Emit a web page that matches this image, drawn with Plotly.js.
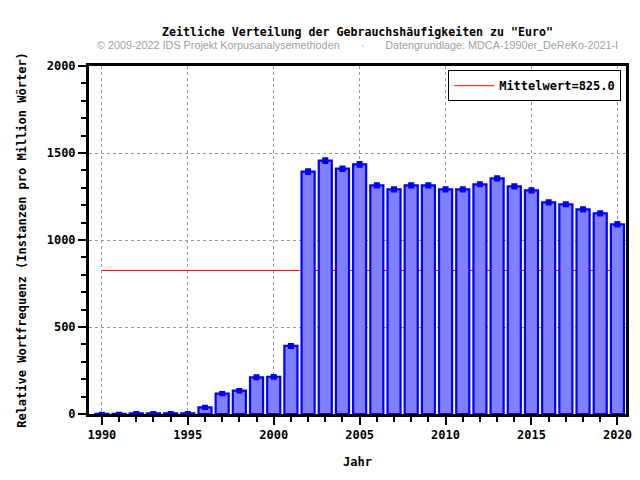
<!DOCTYPE html>
<html>
<head>
<meta charset="utf-8">
<script src="https://cdn.plot.ly/plotly-3.0.1.min.js"></script>
<style>body{margin:0;padding:0;background:#fff}#chart{width:640px;height:480px}</style>
</head>
<body>
<div id="chart"></div>
<script>
const years = [1990,1991,1992,1993,1994,1995,1996,1997,1998,1999,2000,2001,2002,2003,2004,2005,2006,2007,2008,2009,2010,2011,2012,2013,2014,2015,2016,2017,2018,2019,2020];
const values = [1,1,4,4,4,4,38,117,134,211,214,391,1393,1456,1410,1435,1314,1291,1314,1314,1291,1291,1320,1354,1308,1285,1216,1205,1176,1153,1090];
const errors = [1,1,2,2,2,2,3,4,4,6,5,6,8,8,7,8,6,6,6,6,6,6,6,7,6,6,6,6,6,6,7];
const meanValue = 825.0;
const meanYears = [1990, 2020];
const titleText = 'Zeitliche Verteilung der Gebrauchshäufigkeiten zu "Euro"';
const subtitleText = '© 2009-2022 IDS Projekt Korpusanalysemethoden &nbsp;&nbsp;&nbsp;&nbsp;&nbsp;&nbsp;·&nbsp;&nbsp;&nbsp;&nbsp;&nbsp;&nbsp; Datengrundlage: MDCA-1990er_DeReKo-2021-I';
const xTitle = 'Jahr';
const yTitle = 'Relative Wortfrequenz (Instanzen pro Million Wörter)';

const mono = 'DejaVu Sans Mono, monospace';
const xRange = [1989.25, 2020.5];
const yRange = [0, 2000];

const traces = [
  {
    type: 'scatter', mode: 'lines',
    x: meanYears, y: [meanValue, meanValue],
    xaxis: 'x', yaxis: 'y',
    line: {color: '#ff0000', width: 1},
    name: 'Mittelwert=' + meanValue.toFixed(1),
    showlegend: true
  },
  {
    type: 'bar', x: years, y: values, width: 0.76,
    xaxis: 'x2', yaxis: 'y2',
    marker: {color: '#8080ff', line: {color: '#0000ff', width: 2.2}},
    error_y: {type: 'data', array: errors, visible: true, color: '#0000ee', thickness: 4, width: 3},
    showlegend: false, name: 'Euro'
  }
];

const layout = {
  width: 640, height: 480,
  margin: {l: 89, r: 14, t: 66, b: 66},
  paper_bgcolor: '#fff', plot_bgcolor: '#fff',
  showlegend: true,
  legend: {
    x: 0.991, y: 0.988, xanchor: 'right', yanchor: 'top',
    bordercolor: '#000', borderwidth: 1, bgcolor: '#fff',
    font: {family: mono, size: 12, color: '#000', weight: 'bold'},
    itemwidth: 40
  },
  title: {
    text: titleText, x: 0.5585, xanchor: 'center', y: 0.933, yanchor: 'middle',
    font: {family: mono, size: 11.6, color: '#000', weight: 'bold'}
  },
  annotations: [{
    text: subtitleText, xref: 'paper', yref: 'paper', x: 0.5, y: 1.0, xanchor: 'center',
    yanchor: 'bottom', yshift: 13, showarrow: false,
    font: {family: 'Liberation Sans, Arial, sans-serif', size: 10.8, color: '#a0a0a0'}
  }],
  xaxis: {
    range: xRange, tick0: 1990, dtick: 5, ticks: 'outside', ticklen: 8, tickwidth: 2,
    tickcolor: '#000', showline: true, linecolor: '#000', linewidth: 3, mirror: true,
    showgrid: true, gridcolor: '#999', griddash: 'dot', gridwidth: 1, zeroline: false,
    tickfont: {family: mono, size: 12, color: '#000', weight: 'bold'},
    minor: {dtick: 1, tick0: 1990, ticks: 'outside', ticklen: 5, tickwidth: 2, tickcolor: '#000', showgrid: false},
    title: {text: xTitle, standoff: 17, font: {family: mono, size: 12, color: '#000', weight: 'bold'}}
  },
  yaxis: {
    range: yRange, dtick: 500, ticks: 'outside', ticklen: 8, tickwidth: 2,
    tickcolor: '#000', showline: true, linecolor: '#000', linewidth: 3, mirror: true,
    showgrid: true, gridcolor: '#999', griddash: 'dot', gridwidth: 1, zeroline: false,
    tickfont: {family: mono, size: 12, color: '#000', weight: 'bold'},
    minor: {dtick: 100, ticks: 'outside', ticklen: 5, tickwidth: 2, tickcolor: '#000', showgrid: false},
    title: {text: yTitle, standoff: 18, font: {family: mono, size: 12, color: '#000', weight: 'bold'}}
  },
  xaxis2: {overlaying: 'x', range: xRange, visible: false, showgrid: false, zeroline: false},
  yaxis2: {overlaying: 'y', range: yRange, visible: false, showgrid: false, zeroline: false}
};

Plotly.newPlot('chart', traces, layout, {displayModeBar: false, staticPlot: true});
</script>
</body>
</html>
